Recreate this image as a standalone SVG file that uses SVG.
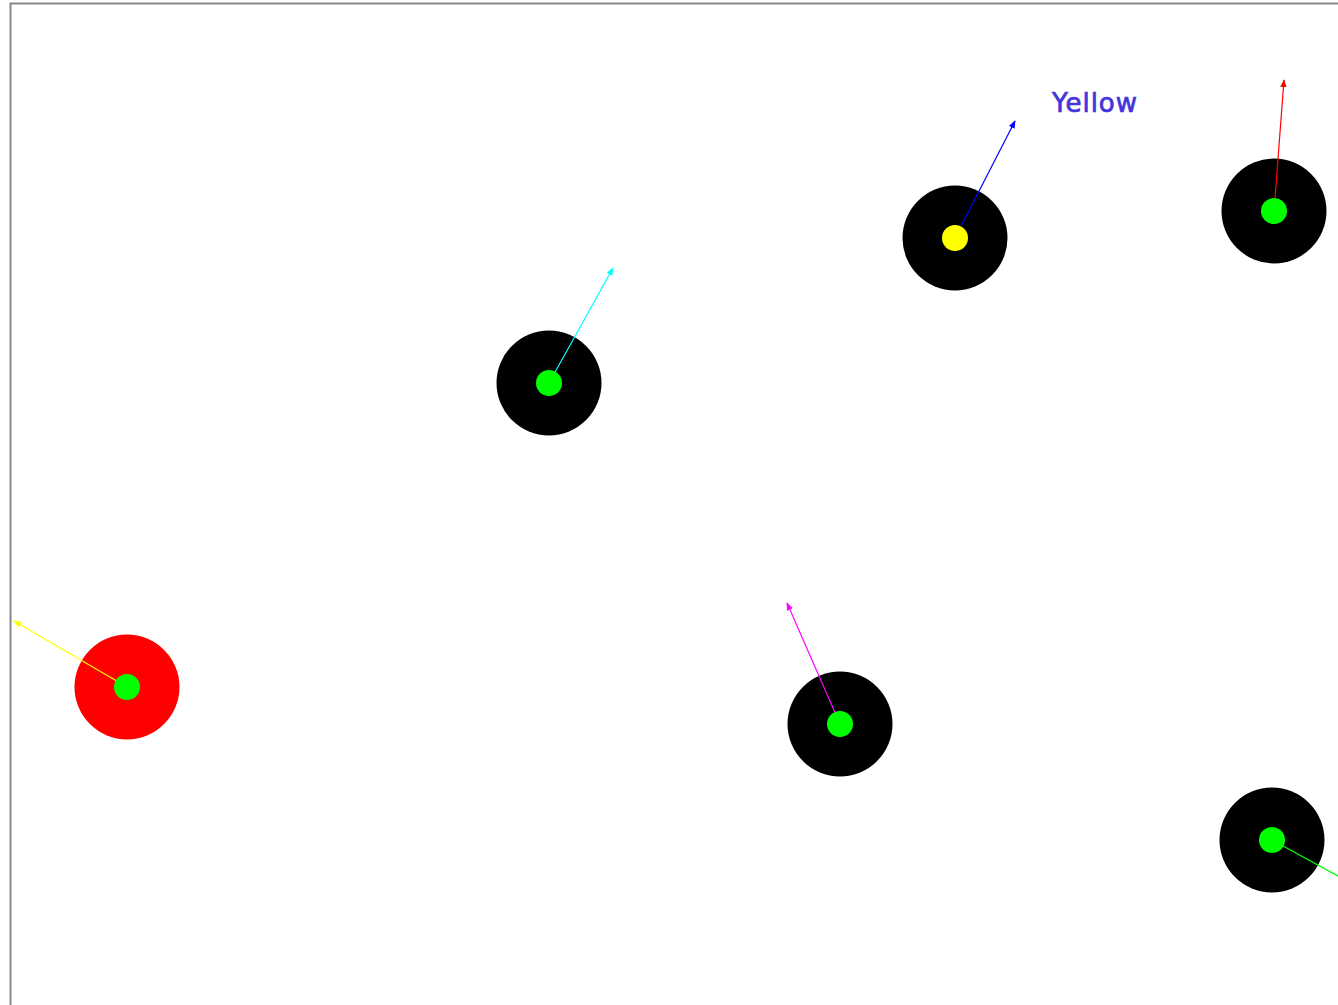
<svg xmlns="http://www.w3.org/2000/svg" width="1338" height="1005" viewBox="0 0 1338 1005">
<style>
.outer{fill:#000}
.inner{fill:#00ff00}
.ptr{stroke-width:1.2;fill:none}
.lbl{font-family:"DejaVu Sans",sans-serif;font-size:26px;letter-spacing:1px;fill:#4433dd;stroke:#4433dd;stroke-width:0.7}
</style>
<defs>
<marker id="ahY" viewBox="0 0 10 10" refX="9" refY="5" markerWidth="8" markerHeight="8" orient="auto" markerUnits="userSpaceOnUse"><path d="M0,1 L10,5 L0,9 z" fill="#ffff00"/></marker>
<marker id="ahC" viewBox="0 0 10 10" refX="9" refY="5" markerWidth="8" markerHeight="8" orient="auto" markerUnits="userSpaceOnUse"><path d="M0,1 L10,5 L0,9 z" fill="#00ffff"/></marker>
<marker id="ahB" viewBox="0 0 10 10" refX="9" refY="5" markerWidth="8" markerHeight="8" orient="auto" markerUnits="userSpaceOnUse"><path d="M0,1 L10,5 L0,9 z" fill="#0000ff"/></marker>
<marker id="ahR" viewBox="0 0 10 10" refX="9" refY="5" markerWidth="8" markerHeight="8" orient="auto" markerUnits="userSpaceOnUse"><path d="M0,1 L10,5 L0,9 z" fill="#ff0000"/></marker>
<marker id="ahM" viewBox="0 0 10 10" refX="9" refY="5" markerWidth="8" markerHeight="8" orient="auto" markerUnits="userSpaceOnUse"><path d="M0,1 L10,5 L0,9 z" fill="#ff00ff"/></marker>
<marker id="ahG" viewBox="0 0 10 10" refX="9" refY="5" markerWidth="8" markerHeight="8" orient="auto" markerUnits="userSpaceOnUse"><path d="M0,1 L10,5 L0,9 z" fill="#00ff00"/></marker>
</defs>
<rect x="0" y="0" width="1338" height="1005" fill="#fff"/>
<path d="M10.5,1005 V3.5 H1338" stroke="#888" stroke-width="2" fill="none"/>
<g id="n1"><circle class="outer" cx="127" cy="687" r="52.5" style="fill:#ff0000"/></g>
<g id="n2"><circle class="outer" cx="549" cy="383" r="52.5"/></g>
<g id="n3"><circle class="outer" cx="955" cy="238" r="52.5"/></g>
<g id="n4"><circle class="outer" cx="1274" cy="211" r="52.5"/></g>
<g id="n5"><circle class="outer" cx="840" cy="724" r="52.5"/></g>
<g id="n6"><circle class="outer" cx="1272" cy="840" r="52.5"/></g>
<g id="connectors">
<line class="ptr" x1="127" y1="687" x2="14" y2="621" stroke="#ffff00" marker-end="url(#ahY)"/>
<line class="ptr" x1="549" y1="383" x2="613" y2="268" stroke="#00ffff" marker-end="url(#ahC)"/>
<line class="ptr" x1="955" y1="238" x2="1015" y2="121" stroke="#0000ff" marker-end="url(#ahB)"/>
<line class="ptr" x1="1274" y1="211" x2="1284" y2="80" stroke="#ff0000" marker-end="url(#ahR)"/>
<line class="ptr" x1="840" y1="724" x2="787" y2="603" stroke="#ff00ff" marker-end="url(#ahM)"/>
<line class="ptr" x1="1272" y1="840" x2="1380" y2="899" stroke="#00ff00" marker-end="url(#ahG)"/>
</g>
<g id="inners">
<circle class="inner" cx="127" cy="687" r="13"/>
<circle class="inner" cx="549" cy="383" r="13"/>
<circle class="inner" cx="955" cy="238" r="13" style="fill:#ffff00"/>
<circle class="inner" cx="1274" cy="211" r="13"/>
<circle class="inner" cx="840" cy="724" r="13"/>
<circle class="inner" cx="1272" cy="840" r="13"/>
</g>
<text class="lbl" x="1052" y="112">Yellow</text>
</svg>
